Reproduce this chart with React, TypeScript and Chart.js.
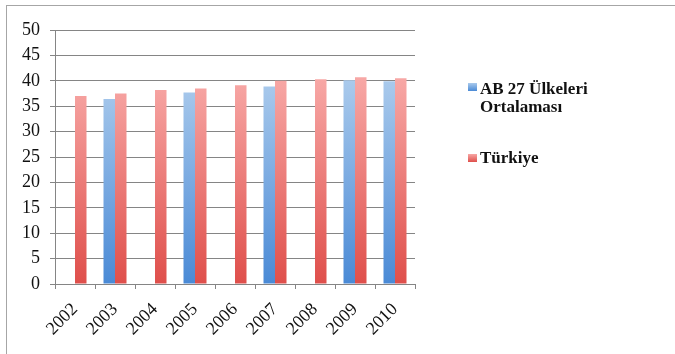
import React, { useEffect, useRef } from "react";
import { Chart, registerables } from "chart.js";

Chart.register(...registerables);

const years = ["2002", "2003", "2004", "2005", "2006", "2007", "2008", "2009", "2010"];
const abValues: (number | null)[] = [null, 36.4, null, 37.7, null, 38.9, null, 40.1, 39.9];
const trValues: number[] = [37.0, 37.5, 38.2, 38.5, 39.1, 40.0, 40.3, 40.7, 40.5];
const yTicks = [0, 5, 10, 15, 20, 25, 30, 35, 40, 45, 50];
const seriesNames = ["AB 27 Ülkeleri Ortalaması", "Türkiye"];

const FONT = "'Liberation Serif', 'DejaVu Serif', serif";

function gradientFor(top: string, bottom: string) {
  return (ctx: any) => {
    const chart = ctx.chart;
    const area = chart.chartArea;
    if (!area) return bottom;
    const g = chart.ctx.createLinearGradient(0, area.top + 50, 0, area.bottom);
    g.addColorStop(0, top);
    g.addColorStop(1, bottom);
    return g;
  };
}

export default function App() {
  const ref = useRef<HTMLCanvasElement | null>(null);

  useEffect(() => {
    document.body.style.margin = "0";
    if (!ref.current) return;
    const chart = new Chart(ref.current, {
      type: "bar",
      data: {
        labels: years,
        datasets: [
          {
            label: seriesNames[0],
            data: abValues,
            backgroundColor: gradientFor("#aacaec", "#4a8ad6"),
            borderWidth: 0,
          },
          {
            label: seriesNames[1],
            data: trValues,
            backgroundColor: gradientFor("#f7a7a5", "#df4f4b"),
            borderWidth: 0,
          },
        ],
      },
      options: {
        animation: false,
        responsive: false,
        maintainAspectRatio: false,
        layout: { padding: { top: 30, right: 260, left: 0, bottom: 0 } },
        datasets: {
          bar: { categoryPercentage: 0.575, barPercentage: 1 },
        },
        plugins: {
          legend: { display: false },
          tooltip: { enabled: false },
        },
        scales: {
          x: {
            afterFit: (s: any) => {
              s.height = 70;
            },
            grid: {
              offset: true,
              drawOnChartArea: false,
              drawTicks: true,
              tickLength: 5,
              color: "#858585",
              lineWidth: 1,
            },
            border: { display: true, color: "#858585", width: 1 },
            ticks: {
              minRotation: 45,
              maxRotation: 45,
              color: "#111",
              padding: 10,
              font: { family: FONT, size: 18 },
            },
          },
          y: {
            min: 0,
            max: 50,
            afterFit: (s: any) => {
              s.width = 55;
            },
            afterBuildTicks: (s: any) => {
              s.ticks = yTicks.map((v) => ({ value: v }));
            },
            grid: {
              color: "#858585",
              lineWidth: 1,
              tickLength: 5,
            },
            border: { display: true, color: "#858585", width: 1 },
            ticks: {
              color: "#111",
              padding: 10,
              font: { family: FONT, size: 18 },
            },
          },
        },
      },
    });
    return () => chart.destroy();
  }, []);

  const legendText: React.CSSProperties = {
    position: "absolute",
    fontFamily: FONT,
    fontWeight: "bold",
    fontSize: 17,
    lineHeight: "18px",
    color: "#111",
    whiteSpace: "nowrap",
  };

  return (
    <div style={{ position: "relative", width: 675, height: 354 }}>
      <canvas ref={ref} width={675} height={354} style={{ position: "absolute", left: 0, top: 0 }} />
      <div
        style={{
          position: "absolute",
          left: 6,
          top: 5,
          width: 668,
          height: 349,
          borderTop: "1px solid #a6a6a6",
          borderLeft: "1px solid #a6a6a6",
          pointerEvents: "none",
        }}
      />
      <div style={{ position: "absolute", left: 468, top: 83, width: 9, height: 8, background: "linear-gradient(#aacaec, #4a8ad6)" }} />
      <div style={{ ...legendText, left: 480, top: 80 }}>
        AB 27 Ülkeleri
        <br />
        Ortalaması
      </div>
      <div style={{ position: "absolute", left: 468, top: 154, width: 9, height: 8, background: "linear-gradient(#f7a7a5, #df4f4b)" }} />
      <div style={{ ...legendText, left: 480, top: 149 }}>Türkiye</div>
    </div>
  );
}
